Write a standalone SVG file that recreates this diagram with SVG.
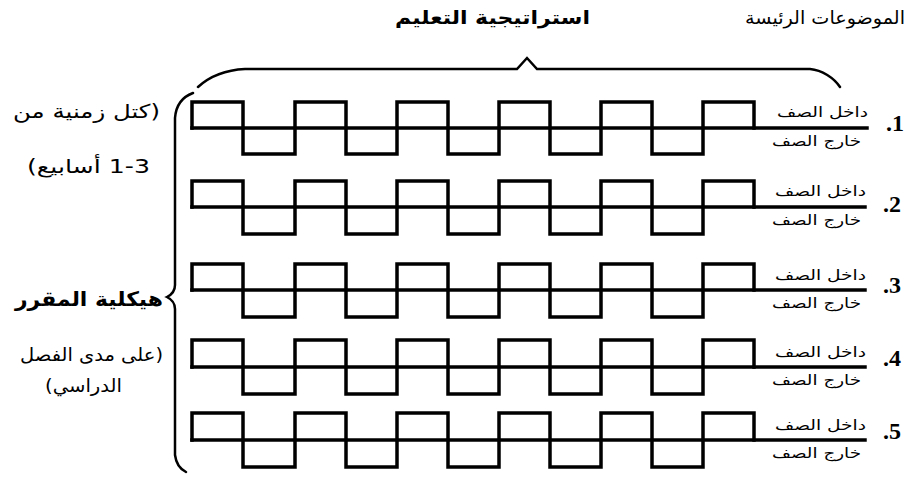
<svg xmlns="http://www.w3.org/2000/svg" width="913" height="480" viewBox="0 0 913 480">
<style>
  .bg { fill: #ffffff; }
  .wave { fill: none; stroke: #000; stroke-width: 3.5; stroke-linejoin: miter; stroke-linecap: square; }
  .brace { fill: none; stroke: #000; stroke-width: 2.5; stroke-linecap: round; stroke-linejoin: miter; }
  .ar { font-family: "DejaVu Sans", sans-serif; fill: #000; direction: rtl; unicode-bidi: embed; text-anchor: start; }
  .lbl { font-size: 14px; }
  .side { font-size: 19px; }
  .bold { font-weight: bold; }
  .num { font-family: "Liberation Serif", serif; font-weight: bold; font-size: 24px; fill: #000; text-anchor: end; }
</style>
<rect class="bg" x="0" y="0" width="913" height="480"/>

<g id="headings">
  <text class="ar" x="905" y="24" style="font-size:18px" textLength="160" lengthAdjust="spacingAndGlyphs">الموضوعات الرئيسة</text>
  <text class="ar bold" x="590" y="24" style="font-size:19px" textLength="195" lengthAdjust="spacingAndGlyphs">استراتيجية التعليم</text>
</g>

<g id="side-labels">
  <text class="ar side" x="160" y="118" textLength="147" lengthAdjust="spacingAndGlyphs">(كتل زمنية من</text>
  <text class="ar side" x="150" y="173" textLength="123" lengthAdjust="spacingAndGlyphs">1-3 أسابيع)</text>
  <text class="ar bold" x="163" y="306" style="font-size:20px" textLength="148" lengthAdjust="spacingAndGlyphs">هيكلية المقرر</text>
  <text class="ar" x="163" y="361" style="font-size:18px" textLength="143" lengthAdjust="spacingAndGlyphs">(على مدى الفصل</text>
  <text class="ar" x="122" y="392" style="font-size:18px" textLength="77" lengthAdjust="spacingAndGlyphs">الدراسي)</text>
</g>

<g id="connectors">
  <path class="brace" d="M198,87 C210,76 225,70 245,69 L517,69 L527,58 L537,69 L810,69 C822,70 834,78 840,87"/>
  <path class="brace" d="M193,93 C182,97 176,105 175,118 L175,285 C175,292 171,295 167,297 C171,299 175,302 175,309 L175,455 C176,463 180,469 186,472"/>
</g>

<g id="row1">
  <path class="wave" d="M192,128 V102 H243 V154 H295 V102 H346 V154 H397 V102 H448 V154 H499 V102 H550 V154 H601 V102 H652 V154 H703 V102 H754 V128"/>
  <path class="wave" d="M192,128 H867"/>
  <text class="ar lbl" x="868" y="117" textLength="91" lengthAdjust="spacingAndGlyphs">داخل الصف</text>
  <text class="ar lbl" x="861" y="146" textLength="89" lengthAdjust="spacingAndGlyphs">خارج الصف</text>
  <text class="num" x="904" y="131">.1</text>
</g>

<g id="row2">
  <path class="wave" d="M192,207 V181 H243 V234 H295 V181 H346 V234 H397 V181 H448 V234 H499 V181 H550 V234 H601 V181 H652 V234 H703 V181 H754 V207"/>
  <path class="wave" d="M192,207 H865"/>
  <text class="ar lbl" x="866" y="196" textLength="91" lengthAdjust="spacingAndGlyphs">داخل الصف</text>
  <text class="ar lbl" x="861" y="225" textLength="89" lengthAdjust="spacingAndGlyphs">خارج الصف</text>
  <text class="num" x="901" y="212">.2</text>
</g>

<g id="row3">
  <path class="wave" d="M192,290 V264 H243 V317 H295 V264 H346 V317 H397 V264 H448 V317 H499 V264 H550 V317 H601 V264 H652 V317 H703 V264 H754 V290"/>
  <path class="wave" d="M192,290 H865"/>
  <text class="ar lbl" x="866" y="280" textLength="91" lengthAdjust="spacingAndGlyphs">داخل الصف</text>
  <text class="ar lbl" x="861" y="308" textLength="89" lengthAdjust="spacingAndGlyphs">خارج الصف</text>
  <text class="num" x="901" y="293">.3</text>
</g>

<g id="row4">
  <path class="wave" d="M192,367 V340 H243 V394 H295 V340 H346 V394 H397 V340 H448 V394 H499 V340 H550 V394 H601 V340 H652 V394 H703 V340 H754 V367"/>
  <path class="wave" d="M192,367 H865"/>
  <text class="ar lbl" x="866" y="357" textLength="91" lengthAdjust="spacingAndGlyphs">داخل الصف</text>
  <text class="ar lbl" x="861" y="385" textLength="89" lengthAdjust="spacingAndGlyphs">خارج الصف</text>
  <text class="num" x="901" y="366">.4</text>
</g>

<g id="row5">
  <path class="wave" d="M192,440 V413 H243 V467 H295 V413 H346 V467 H397 V413 H448 V467 H499 V413 H550 V467 H601 V413 H652 V467 H703 V413 H754 V440"/>
  <path class="wave" d="M192,440 H865"/>
  <text class="ar lbl" x="866" y="430" textLength="91" lengthAdjust="spacingAndGlyphs">داخل الصف</text>
  <text class="ar lbl" x="861" y="458" textLength="89" lengthAdjust="spacingAndGlyphs">خارج الصف</text>
  <text class="num" x="901" y="439">.5</text>
</g>
</svg>
